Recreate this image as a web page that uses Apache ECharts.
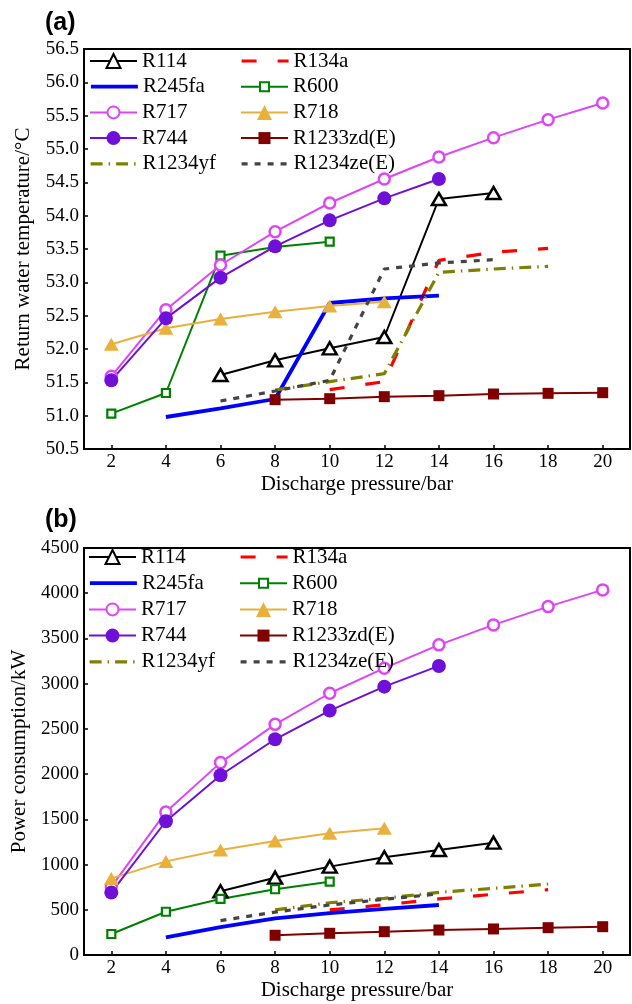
<!DOCTYPE html>
<html>
<head>
<meta charset="utf-8">
<script src="https://cdn.jsdelivr.net/npm/echarts@6/dist/echarts.min.js"></script>
<style>
html,body{margin:0;padding:0;background:#fff;}
#main{width:632px;height:1004px;}
</style>
</head>
<body>
<div id="main"></div>
<script>
// ---------- data ----------
const pressures = [2, 4, 6, 8, 10, 12, 14, 16, 18, 20];
const xTickLabels = [2, 4, 6, 8, 10, 12, 14, 16, 18, 20];
const seriesNames = ['R114','R134a','R245fa','R600','R717','R718','R744','R1233zd(E)','R1234yf','R1234ze(E)'];
const legendLeftNames = ['R114','R245fa','R717','R744','R1234yf'];
const legendRightNames = ['R134a','R600','R718','R1233zd(E)','R1234ze(E)'];

// (a) Return water temperature / °C
const tempR114   = [null, null, 51.61, 51.83, 52.01, 52.18, 54.25, 54.34, null, null];
const tempR134a  = [null, null, null, null, 51.39, 51.51, 53.33, 53.45, 53.51, null];
const tempR245fa = [null, 50.98, 51.11, 51.25, 52.69, 52.76, 52.80, null, null, null];
const tempR600   = [51.03, 51.34, 53.40, 53.53, 53.61, null, null, null, null, null];
const tempR717   = [51.59, 52.59, 53.26, 53.76, 54.19, 54.55, 54.88, 55.17, 55.44, 55.69];
const tempR718   = [52.07, 52.31, 52.45, 52.56, 52.645, 52.71, null, null, null, null];
const tempR744   = [51.53, 52.46, 53.07, 53.54, 53.93, 54.26, 54.55, null, null, null];
const tempR1233zd = [null, null, null, 51.24, 51.255, 51.285, 51.30, 51.325, 51.335, 51.345];
const tempR1234yf = [null, null, null, 51.385, 51.51, 51.63, 53.15, 53.20, 53.24, null];
const tempR1234ze = [null, null, 51.22, 51.37, 51.53, 53.20, 53.29, 53.34, null, null];

// (b) Power consumption / kW
const powR114   = [null, null, 705, 855, 977, 1080, 1161, 1242, null, null];
const powR134a  = [null, null, null, null, 498, 555, 620, 671, 722, null];
const powR245fa = [null, 195, 308, 405, 462, 510, 553, null, null, null];
const powR600   = [232, 478, 620, 727, 811, null, null, null, null, null];
const powR717   = [754, 1582, 2127, 2550, 2894, 3171, 3429, 3650, 3852, 4037];
const powR718   = [847, 1035, 1162, 1260, 1346, 1401, null, null, null, null];
const powR744   = [690, 1479, 1987, 2385, 2702, 2967, 3196, null, null, null];
const powR1233zd = [null, null, null, 218, 240, 258, 276, 288, 302, 313];
const powR1234yf = [null, null, null, 498, 578, 627, 693, 737, 785, null];
const powR1234ze = [null, null, 380, 475, 553, 616, 676, null, null, null];

const tempData = [tempR114, tempR134a, tempR245fa, tempR600, tempR717, tempR718, tempR744, tempR1233zd, tempR1234yf, tempR1234ze];
const powData  = [powR114, powR134a, powR245fa, powR600, powR717, powR718, powR744, powR1233zd, powR1234yf, powR1234ze];

// ---------- styles ----------
const styles = {
  'R114':      {color:'#000000', width:2,   type:'solid', symbol:'triangle', size:[14,12], hollow:true, bw:2.5, lsize:14},
  'R134a':     {color:'#ff0000', width:3.2, type:[15,21], symbol:'none', lsize:12},
  'R245fa':    {color:'#0000ff', width:3.8, type:'solid', symbol:'none', lsize:12},
  'R600':      {color:'#008000', width:2,   type:'solid', symbol:'rect', size:8, hollow:true, bw:2.2, lsize:9},
  'R717':      {color:'#dd45f5', width:2,   type:'solid', symbol:'circle', size:11, hollow:true, bw:2.5, lsize:12},
  'R718':      {color:'#e9b03c', width:2,   type:'solid', symbol:'triangle', size:[15,13], lsize:15},
  'R744':      {color:'#6e10d8', width:2,   type:'solid', symbol:'circle', size:14, lsize:14},
  'R1233zd(E)':{color:'#800000', width:2,   type:'solid', symbol:'rect', size:11, lsize:12},
  'R1234yf':   {color:'#808000', width:3.2, type:[12,6,1.5,6], symbol:'none', lsize:12},
  'R1234ze(E)':{color:'#444444', width:3.2, type:[6,7], symbol:'none', lsize:12}
};

const FONT = 'Liberation Serif';

function makeSeries(dataArrs, xi, yi) {
  return seriesNames.map((name, k) => {
    const s = styles[name];
    const pts = [];
    pressures.forEach((p, i) => { if (dataArrs[k][i] !== null) pts.push([p, dataArrs[k][i]]); });
    return {
      name: name, type: 'line', xAxisIndex: xi, yAxisIndex: yi,
      data: pts, animation: false, silent: true,
      lineStyle: {color: s.color, width: s.width, type: s.type},
      symbol: s.symbol === 'none' ? 'none' : s.symbol,
      showSymbol: s.symbol !== 'none',
      symbolSize: s.size || 0,
      itemStyle: s.hollow ? {color:'#ffffff', borderColor:s.color, borderWidth:s.bw}
                          : {color:s.color, borderColor:s.color, borderWidth:0},
      color: s.color
    };
  });
}

function axisCommon() {
  return {
    axisLine: {show:true, onZero:false, lineStyle:{color:'#000', width:2}},
    axisTick: {show:true, inside:true, length:4, lineStyle:{color:'#000', width:1.5}},
    splitLine: {show:false},
    axisLabel: {color:'#000', fontFamily:FONT, fontSize:19},
    nameTextStyle: {color:'#000', fontFamily:FONT, fontSize:21}
  };
}

function xAxisDef(gi) {
  const a = axisCommon();
  return Object.assign(a, {
    type:'value', gridIndex:gi, min:1, max:21,
    name:'Discharge pressure/bar', nameLocation:'middle', nameGap:25,
    axisTick: Object.assign(a.axisTick, {customValues: xTickLabels}),
    axisLabel: Object.assign(a.axisLabel, {customValues: xTickLabels, margin:4})
  });
}

const yA = axisCommon();
Object.assign(yA, {type:'value', gridIndex:0, min:50.5, max:56.5, interval:0.5,
  name:'Return water temperature/\u00B0C', nameLocation:'middle', nameGap:50});
yA.axisLabel = Object.assign(yA.axisLabel, {margin:5, formatter: v => v.toFixed(1)});

const yB = axisCommon();
Object.assign(yB, {type:'value', gridIndex:1, min:0, max:4500, interval:500,
  name:'Power consumption/kW', nameLocation:'middle', nameGap:50});
yB.axisLabel = Object.assign(yB.axisLabel, {margin:5, formatter: v => String(v)});

// one legend component per entry, so each icon can have its own marker size
function legendColumn(names, left, firstCenter, gap) {
  return names.map((n, i) => {
    const s = styles[n];
    const item = {name:n, lineStyle:{width:s.width, type:s.type, color:s.color}};
    if (s.symbol === 'none') item.itemStyle = {opacity:0};
    return {
      data:[item], orient:'vertical', left:left, top: firstCenter + i*gap - 13,
      itemWidth:47, itemHeight: s.lsize / 0.8, itemGap:0, padding:0,
      selectedMode:false,
      textStyle:{color:'#000', fontFamily:FONT, fontSize:21, lineHeight:26, padding:[0,0,0,0]}
    };
  });
}

const option = {
  backgroundColor:'#fff',
  animation:false,
  title:[
    {text:'(a)', left:40, top:6, textStyle:{fontFamily:'Liberation Sans', fontWeight:'bold', fontSize:25, color:'#000'}},
    {text:'(b)', left:40, top:503, textStyle:{fontFamily:'Liberation Sans', fontWeight:'bold', fontSize:25, color:'#000'}}
  ],
  grid:[
    {left:84, top:49, width:546, height:400, show:true, borderColor:'#000', borderWidth:2, backgroundColor:'transparent'},
    {left:84, top:548, width:546, height:407, show:true, borderColor:'#000', borderWidth:2, backgroundColor:'transparent'}
  ],
  legend: [].concat(
    legendColumn(legendLeftNames, 89, 61, 25.7),
    legendColumn(legendRightNames, 240, 61, 25.7),
    legendColumn(legendLeftNames, 88, 557, 26.2),
    legendColumn(legendRightNames, 239, 557, 26.2)
  ),
  xAxis:[xAxisDef(0), xAxisDef(1)],
  yAxis:[yA, yB],
  series: makeSeries(tempData, 0, 0).concat(makeSeries(powData, 1, 1))
};

const chart = echarts.init(document.getElementById('main'), null, {renderer:'canvas'});
chart.setOption(option);
</script>
</body>
</html>
